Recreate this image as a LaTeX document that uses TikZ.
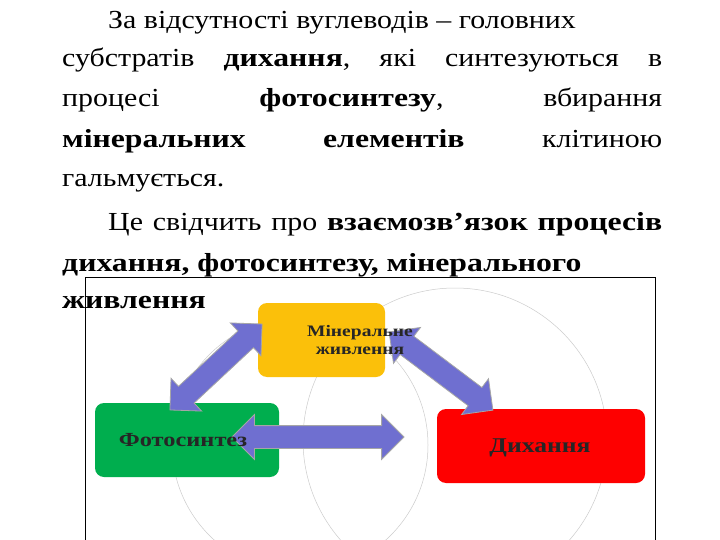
\documentclass[tikz,border=0pt]{standalone}
\usepackage{fontspec}
\setmainfont{Liberation Serif}[FakeStretch=1.15,BoldFeatures={FakeStretch=1.22}]
\usetikzlibrary{shapes.arrows}
\definecolor{arr}{HTML}{6F6FD0}
\definecolor{yel}{HTML}{FBC00A}
\definecolor{grn}{HTML}{00AE4E}
\definecolor{rd}{HTML}{FE0000}
\begin{document}
\begin{tikzpicture}[x=1pt,y=-1pt,
  box/.style={rounded corners=9pt,draw=none,inner sep=0pt},
  lbl/.style={font=\bfseries\fontsize{16}{18}\selectfont,align=center,text=black!85},
  ln/.style={anchor=base west,inner sep=0pt,font=\fontsize{26}{30}\selectfont},
  jl/.style={ln,text width=600pt},
  dbl/.style={double arrow,fill=arr,draw=gray!70,line width=0.8pt,inner xsep=0pt,inner ysep=11pt,double arrow head extend=11pt}]
\useasboundingbox (0,0) rectangle (720,540);
\fill[white] (0,0) rectangle (720,540);
\node[ln] (l1) at (108,29) {За відсутності вуглеводів – головних};
\node[jl] (l2) at (62,67) {субстратів\hfill\textbf{дихання},\hfill які\hfill синтезуються\hfill в};
\node[jl] (l3) at (62,107) {процесі\hfill\textbf{фотосинтезу},\hfill вбирання};
\node[jl] (l4) at (62,148) {\textbf{мінеральних}\hfill\textbf{елементів}\hfill клітиною};
\node[ln] (l5) at (62,187) {гальмується.};
\node[ln,text width=554pt] (l6) at (108,230) {Це\hfill свідчить\hfill про\hfill\textbf{взаємозв\symbol{39}язок}\hfill\textbf{процесів}};
\node[ln] (l7) at (62,271) {\textbf{дихання, фотосинтезу, мінерального}};
\node[ln] (l8) at (62,308) {\textbf{живлення}};
\draw[black,line width=0.7pt] (85,277) -- (85,541) (85,277) -- (655,277) -- (655,541);
\draw[gray!40,line width=0.5pt] (300,445) circle (128);
\draw[gray!40,line width=0.5pt] (455,440) circle (152);
\node[box,fill=yel,minimum width=127pt,minimum height=74pt] (min) at (321.5,340) {};
\node[box,fill=grn,minimum width=184pt,minimum height=74pt] (fot) at (187,440) {};
\node[box,fill=rd,minimum width=208pt,minimum height=74pt] (dyh) at (541,446) {};
\node[dbl,minimum height=126pt,rotate=43] (a1) at (216,367) {};
\node[dbl,minimum height=130pt,rotate=-37] (a2) at (441,371) {};
\node[dbl,minimum height=172pt] (a3) at (318,437) {};
\node[lbl] (t1) at (360,340) {Мінеральне\\живлення};
\node[lbl,font=\bfseries\fontsize{20}{22}\selectfont] (t2) at (183,440) {Фотосинтез};
\node[lbl,font=\bfseries\fontsize{21}{23}\selectfont] (t3) at (540,448) {Дихання};
\end{tikzpicture}
\end{document}
